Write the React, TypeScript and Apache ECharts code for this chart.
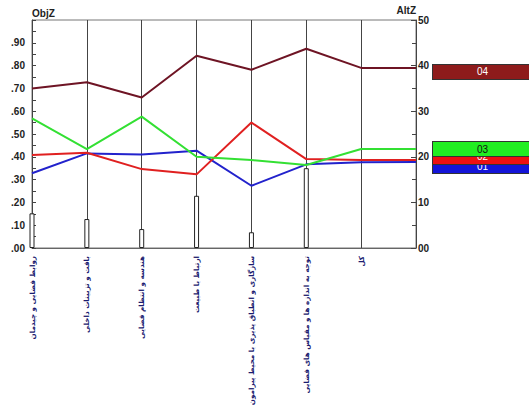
import React, { useEffect, useRef } from 'react';
import * as echarts from 'echarts';

const categories = [
  'روابط فضایی و چیدمان',
  'بافت و تزیینات داخلی',
  'هندسه و انتظام فضایی',
  'ارتباط با طبیعت',
  'سازگاری و انطباق پذیری با محیط پیرامون',
  'توجه به اندازه ها و مقیاس های فضایی',
  'کل',
  '',
];
const leftTickLabels = ['.00', '.10', '.20', '.30', '.40', '.50', '.60', '.70', '.80', '.90', ''];
const rightTickLabels = ['00', '10', '20', '30', '40', '50'];

const barValues = [0.152, 0.127, 0.083, 0.229, 0.069, 0.35, '-', '-'];
const line01 = [0.328, 0.415, 0.41, 0.427, 0.273, 0.367, 0.376, 0.377];
const line02 = [0.408, 0.418, 0.346, 0.323, 0.55, 0.39, 0.386, 0.386];
const line03 = [0.569, 0.434, 0.576, 0.4, 0.386, 0.364, 0.434, 0.434];
const line04 = [0.7, 0.727, 0.66, 0.843, 0.782, 0.874, 0.79, 0.79];
const lineNames = ['01', '02', '03', '04'];

export default function App() {
  const ref = useRef<HTMLDivElement>(null);
  useEffect(() => {
    const chart = echarts.init(ref.current as HTMLDivElement, null, { renderer: 'svg' });
    const numFont = '"Liberation Sans Narrow", "Liberation Sans", Arial, sans-serif';
    const mkLine = (
      name: string,
      data: number[],
      color: string,
      boxColor: string,
      textColor: string,
      offsetY: number,
      z: number
    ) => ({
      type: 'line',
      name,
      data,
      yAxisIndex: 0,
      symbol: 'none',
      silent: true,
      z,
      lineStyle: { color, width: 2 },
      itemStyle: { color },
      endLabel: {
        show: true,
        formatter: name,
        distance: 17,
        offset: [0, offsetY],
        backgroundColor: boxColor,
        color: textColor,
        padding: [2, 44, 1, 44],
        fontSize: 10,
        lineHeight: 11,
        fontFamily: numFont,
        borderColor: '#333',
        borderWidth: 1,
      },
    });
    chart.setOption({
      animation: false,
      backgroundColor: '#fff',
      grid: {
        left: 32,
        right: 113,
        top: 20,
        bottom: 161,
        show: true,
        borderColor: '#777',
        borderWidth: 1,
        containLabel: false,
        outerBoundsMode: 'none',
      },
      xAxis: {
        type: 'category',
        data: categories,
        boundaryGap: false,
        axisLine: { lineStyle: { color: '#666', width: 1 } },
        axisTick: { show: false },
        splitLine: { show: true, lineStyle: { color: '#444', width: 1 } },
        axisLabel: {
          interval: 0,
          rotate: 90,
          margin: 8,
          color: '#1c1c70',
          fontSize: 7.2,
          fontWeight: 'bold',
          fontFamily: '"DejaVu Sans", sans-serif',
        },
      },
      yAxis: [
        {
          type: 'value',
          min: 0,
          max: 1,
          interval: 0.1,
          name: 'ObjZ',
          nameLocation: 'end',
          nameGap: 2,
          nameTextStyle: { align: 'left', fontSize: 10, color: '#222', fontFamily: numFont, fontWeight: 'bold' },
          axisLine: { show: true, lineStyle: { color: '#444' } },
          axisTick: { show: true, inside: true, length: 4, lineStyle: { color: '#444' } },
          minorTick: { show: true, splitNumber: 2, length: 4, lineStyle: { color: '#444' } },
          splitLine: { show: false },
          axisLabel: {
            margin: 7,
            fontSize: 10,
            fontWeight: 'bold',
            color: '#222',
            fontFamily: numFont,
            formatter: (v: number) => leftTickLabels[Math.round(v * 10)] ?? '',
          },
        },
        {
          type: 'value',
          position: 'right',
          min: 0,
          max: 50,
          interval: 10,
          name: 'AltZ',
          nameLocation: 'end',
          nameGap: 2,
          nameTextStyle: { align: 'right', fontSize: 10, color: '#222', fontFamily: numFont, fontWeight: 'bold' },
          axisLine: { show: true, lineStyle: { color: '#444' } },
          axisTick: { show: true, inside: true, length: 5, lineStyle: { color: '#444' } },
          minorTick: { show: true, splitNumber: 2, length: 4, lineStyle: { color: '#444' } },
          splitLine: { show: false },
          axisLabel: {
            margin: 2,
            fontSize: 10,
            fontWeight: 'bold',
            color: '#222',
            fontFamily: numFont,
            formatter: (v: number) => rightTickLabels[Math.round(v / 10)] ?? '',
          },
        },
      ],
      series: [
        {
          type: 'bar',
          data: barValues,
          yAxisIndex: 0,
          barWidth: 5,
          silent: true,
          z: 1,
          itemStyle: { color: '#fff', borderColor: '#222', borderWidth: 1 },
        },
        mkLine(lineNames[0], line01, '#2222cc', '#1414d8', '#fff', 4, 2),
        mkLine(lineNames[1], line02, '#e02020', '#ee1111', '#fff', -3, 3),
        mkLine(lineNames[2], line03, '#33e033', '#22ee22', '#111', 0, 4),
        mkLine(lineNames[3], line04, '#6e1424', '#8e1b1b', '#fff', 4, 5),
      ],
    });
    return () => chart.dispose();
  }, []);
  return <div ref={ref} style={{ position: 'fixed', left: 0, top: 0, width: 529, height: 409 }} />;
}
